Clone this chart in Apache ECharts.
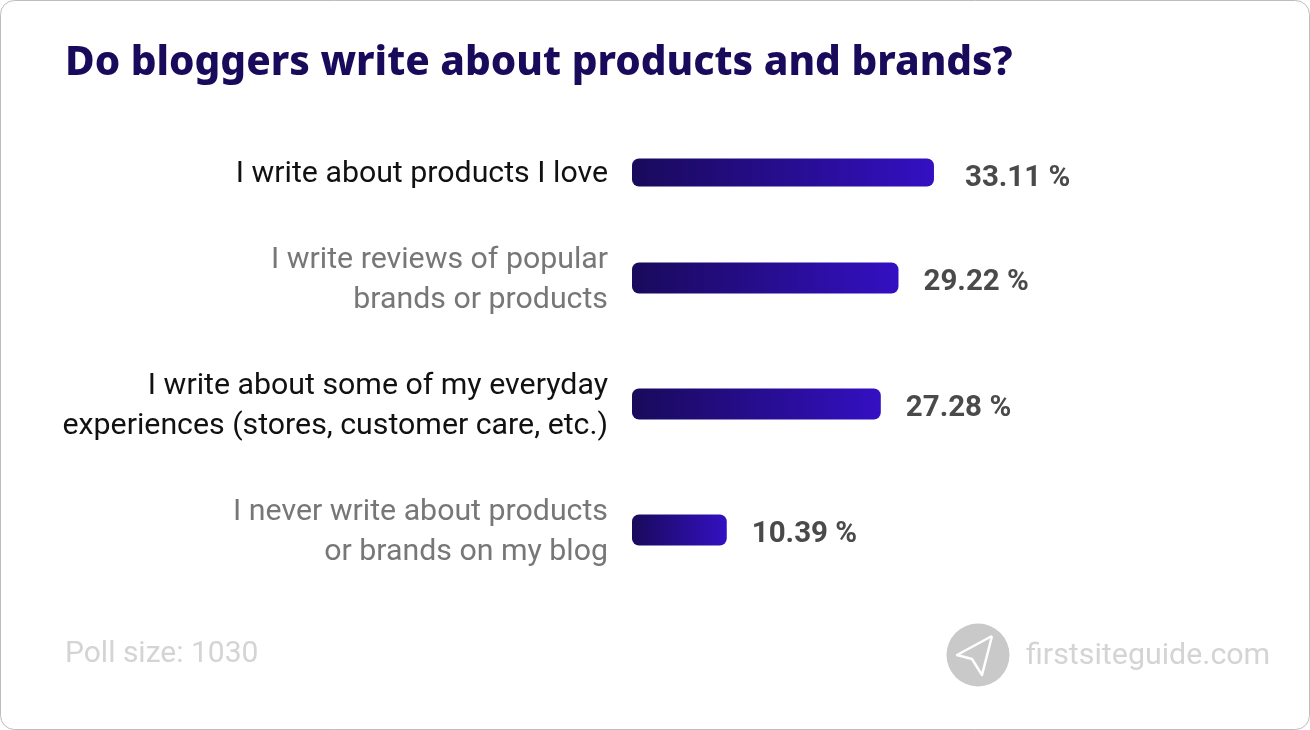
<!DOCTYPE html>
<html>
  <head>
    <meta charset="utf-8" />
    <title>Do bloggers write about products and brands?</title>
    <script src="https://cdn.jsdelivr.net/npm/echarts/dist/echarts.min.js"></script>
    <style>
      html, body { margin: 0; padding: 0; background: #fff; }
    </style>
  </head>
  <body>
    <div id="main" style="width: 1310px; height: 730px"></div>
    <script type="text/javascript">
      var titleText = 'Do bloggers write about products and brands?';
      var pollText = 'Poll size: 1030';
      var siteText = 'firstsiteguide.com';

      // the first row sits closer to the second than the others, so it has its own grid
      var topCategories = ['I write about products I love'];
      var topValues = [33.11];
      var restCategories = [
        'I write reviews of popular\nbrands or products',
        'I write about some of my everyday\nexperiences (stores, customer care, etc.)',
        'I never write about products\nor brands on my blog',
      ];
      var restValues = [29.22, 27.28, 10.39];
      var restLabelColors = ['#777777', '#111111', '#777777'];

      var myChart = echarts.init(document.getElementById('main'));

      var barFill = new echarts.graphic.LinearGradient(0, 0, 1, 0, [
        { offset: 0, color: '#190a5b' },
        { offset: 1, color: '#3410c2' },
      ]);

      function valueAxis(gridIndex) {
        return { type: 'value', gridIndex: gridIndex, min: 0, max: 50, show: false };
      }

      // padding only moves the text when it is top aligned, so the pull up depends on the line count
      function categoryAxis(gridIndex, names, colors, pullUp) {
        return {
          type: 'category',
          gridIndex: gridIndex,
          data: names,
          inverse: true,
          axisLine: { show: false },
          axisTick: { show: false },
          splitLine: { show: false },
          axisLabel: {
            interval: 0,
            margin: 24,
            align: 'right',
            verticalAlign: 'top',
            fontFamily: 'Roboto',
            fontSize: 30.3,
            lineHeight: 40,
            padding: [pullUp, 0, 0, 0],
            color: function (value, index) {
              return colors[index];
            },
          },
        };
      }

      function barSeries(gridIndex, values, barWidth, distance, shiftY) {
        return {
          type: 'bar',
          xAxisIndex: gridIndex,
          yAxisIndex: gridIndex,
          data: values,
          barWidth: barWidth,
          itemStyle: { color: barFill, borderRadius: 7 },
          label: {
            show: true,
            position: 'right',
            distance: distance,
            offset: [0, shiftY],
            fontFamily: 'Roboto',
            fontWeight: 'bold',
            fontSize: 29.5,
            color: '#4a4a4a',
            formatter: function (p) {
              return p.value.toFixed(2) + ' %';
            },
          },
        };
      }

      var option = {
        backgroundColor: '#ffffff',
        animation: false,
        title: [
          {
            text: titleText,
            left: 60,
            top: 38,
            textStyle: { fontFamily: 'Noto Sans', fontWeight: 800, fontSize: 40.5, color: '#190a5b' },
          },
          {
            text: pollText,
            left: 60,
            top: 634,
            textStyle: { fontFamily: 'Roboto', fontWeight: 'normal', fontSize: 30, color: '#d4d4d4' },
          },
          {
            text: siteText,
            left: 1021,
            top: 636,
            textStyle: { fontFamily: 'Roboto', fontWeight: 'normal', fontSize: 30.4, color: '#d4d4d4' },
          },
        ],
        grid: [
          { left: 632, width: 456, top: 120, height: 105 },
          { left: 632, width: 456, top: 215, height: 378 },
        ],
        xAxis: [valueAxis(0), valueAxis(1)],
        yAxis: [
          categoryAxis(0, topCategories, ['#111111'], -18),
          categoryAxis(1, restCategories, restLabelColors, -38),
        ],
        series: [barSeries(0, topValues, 28, 31, 6), barSeries(1, restValues, 31, 25, 5)],
        graphic: [
          {
            type: 'rect',
            shape: { x: 0.5, y: 0.5, width: 1309, height: 729, r: 14 },
            style: { fill: 'none', stroke: '#bdbdbd', lineWidth: 1 },
            silent: true,
          },
          {
            type: 'circle',
            shape: { cx: 978, cy: 655, r: 31.5 },
            style: { fill: '#c9c9c9' },
            silent: true,
          },
          {
            type: 'polyline',
            shape: { points: [[992, 636], [957, 655], [972, 659], [982, 675], [992, 636]] },
            style: { fill: 'none', stroke: '#ffffff', lineWidth: 2.5, lineJoin: 'round' },
            silent: true,
          },
        ],
      };

      myChart.setOption(option);
    </script>
  </body>
</html>
